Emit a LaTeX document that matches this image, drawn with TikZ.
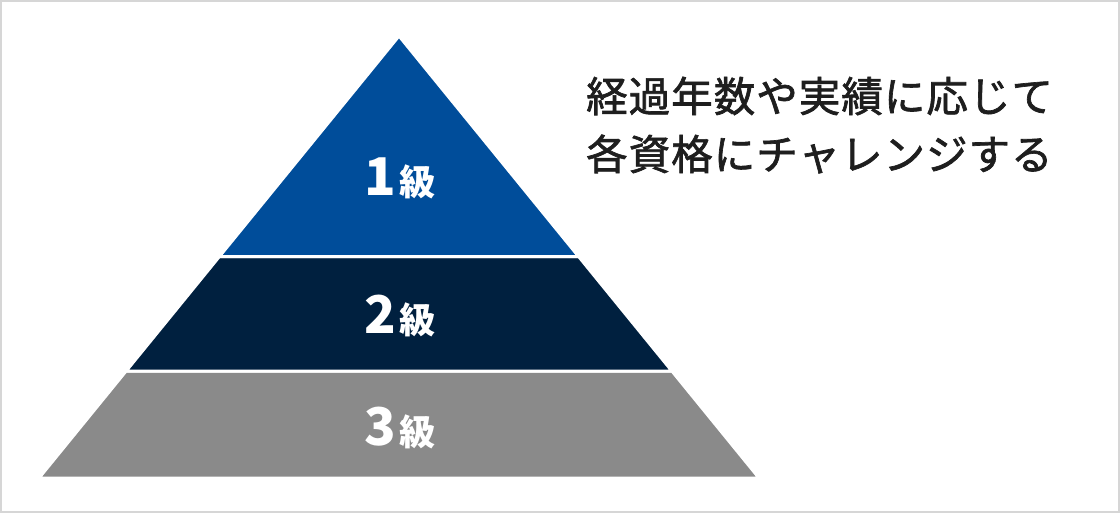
\documentclass[tikz,border=0pt]{standalone}
\usepackage{fontspec}
\newfontfamily\cjk{Noto Sans CJK JP}
\newfontfamily\cjkmed[FakeBold=1.6, LetterSpace=2.5]{Noto Sans CJK JP}
\usepackage{tikz}
\usetikzlibrary{calc}

\definecolor{tierblue}{HTML}{004D9A}
\definecolor{tiernavy}{HTML}{00203F}
\definecolor{tiergray}{HTML}{8A8A8A}
\definecolor{framegray}{HTML}{D6D6D6}
\definecolor{textdark}{HTML}{1E1E1E}

\begin{document}
\begin{tikzpicture}[x=1pt, y=-1pt]
  \tikzstyle{tier}=[draw=white, line width=3pt, line join=miter]
  \tikzstyle{grade}=[text=white, font=\cjk\bfseries]
  \tikzstyle{note}=[anchor=west, inner sep=0pt, text=textdark, font=\cjkmed\fontsize{41.5}{48}\selectfont]

  \filldraw[white, draw=framegray, line width=2pt] (1,1) rectangle (1119,512);
  \useasboundingbox (0,0) rectangle (1120,513);

  \coordinate (apex) at (399,36);
  \coordinate (bl) at (39,478);
  \coordinate (br) at (759,478);
  \coordinate (l1) at ($(apex)!0.4989!(bl)$);
  \coordinate (r1) at ($(apex)!0.4989!(br)$);
  \coordinate (l2) at ($(apex)!0.758!(bl)$);
  \coordinate (r2) at ($(apex)!0.758!(br)$);

  \filldraw[tier, fill=tiergray] (l2) -- (r2) -- (br) -- (bl) -- cycle;
  \filldraw[tier, fill=tiernavy] (l1) -- (r1) -- (r2) -- (l2) -- cycle;
  \filldraw[tier, fill=tierblue] (apex) -- (r1) -- (l1) -- cycle;

  \node[grade] (g1) at (400,178) {{\fontsize{52}{52}\selectfont 1}\kern4pt{\fontsize{36}{36}\selectfont 級}};
  \node[grade] (g2) at (400,316) {{\fontsize{52}{52}\selectfont 2}\kern4pt{\fontsize{36}{36}\selectfont 級}};
  \node[grade] (g3) at (400,428) {{\fontsize{52}{52}\selectfont 3}\kern4pt{\fontsize{36}{36}\selectfont 級}};

  \node[note] (n1) at (586,96) {経過年数や実績に応じて};
  \node[note] (n2) at (586,154) {各資格にチャレンジする};
\end{tikzpicture}
\end{document}
